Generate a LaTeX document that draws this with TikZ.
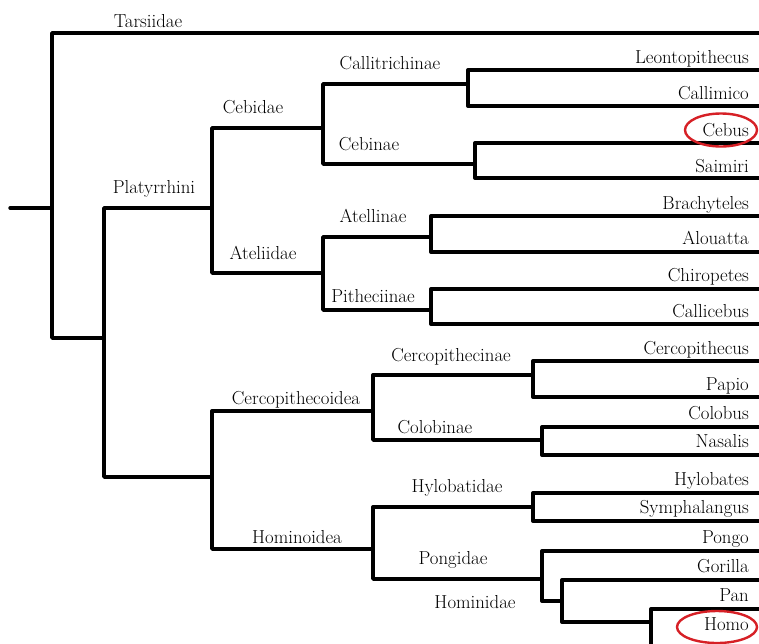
\documentclass[tikz,border=0pt]{standalone}
\usetikzlibrary{shapes.geometric}
\definecolor{markred}{RGB}{214,32,38}
\begin{document}
\begin{tikzpicture}[x=1pt,y=-1pt,
  branch/.style={line width=3.4pt, line cap=round, line join=round},
  taxon/.style={inner sep=0pt, font=\fontsize{18.8}{21}\selectfont, anchor=base},
  leaf/.style={taxon, anchor=base east},
  ringmark/.style={draw=markred, line width=2.4pt, ellipse, inner sep=0pt}]
\useasboundingbox (0,0) rectangle (759,643);
\begin{scope}
\clip (0,0) rectangle (759,643);
% branch points
\coordinate (stub) at (10,208);
\coordinate (root) at (52,208);
\coordinate (anth) at (104,338);
\coordinate (platy) at (212,208);
\coordinate (catar) at (212,477);
\coordinate (cebid) at (323,128);
\coordinate (ateli) at (323,273);
\coordinate (callit) at (468,84);
\coordinate (cebin) at (475,164);
\coordinate (atell) at (431,237);
\coordinate (pith) at (431,310);
\coordinate (cercoid) at (373,411);
\coordinate (homoid) at (373,549);
\coordinate (cercin) at (533,375);
\coordinate (colob) at (542,440);
\coordinate (hylob) at (533,507);
\coordinate (pong) at (542,579);
\coordinate (homin) at (562,601);
\coordinate (hp) at (651,622);
% leaf tips
\coordinate (tarsT) at (763,33);
\coordinate (leonT) at (763,70);
\coordinate (callimT) at (763,106);
\coordinate (cebusT) at (763,143);
\coordinate (saimT) at (763,178);
\coordinate (brachT) at (763,216);
\coordinate (alouT) at (763,252);
\coordinate (chirT) at (763,289);
\coordinate (callicT) at (763,324);
\coordinate (cercoT) at (763,361);
\coordinate (papioT) at (763,397);
\coordinate (colobT) at (763,427);
\coordinate (nasT) at (763,455);
\coordinate (hylT) at (763,493);
\coordinate (symT) at (763,521);
\coordinate (pongoT) at (763,551);
\coordinate (goriT) at (763,580);
\coordinate (panT) at (763,609);
\coordinate (homoT) at (763,648);
% branches
\draw[branch] (stub) -- (root);
\draw[branch] (root) |- (tarsT);
\draw[branch] (root) |- (anth);
\draw[branch] (anth) |- (platy);
\draw[branch] (anth) |- (catar);
\draw[branch] (platy) |- (cebid);
\draw[branch] (platy) |- (ateli);
\draw[branch] (cebid) |- (callit);
\draw[branch] (cebid) |- (cebin);
\draw[branch] (ateli) |- (atell);
\draw[branch] (ateli) |- (pith);
\draw[branch] (callit) |- (leonT);
\draw[branch] (callit) |- (callimT);
\draw[branch] (cebin) |- (cebusT);
\draw[branch] (cebin) |- (saimT);
\draw[branch] (atell) |- (brachT);
\draw[branch] (atell) |- (alouT);
\draw[branch] (pith) |- (chirT);
\draw[branch] (pith) |- (callicT);
\draw[branch] (catar) |- (cercoid);
\draw[branch] (catar) |- (homoid);
\draw[branch] (cercoid) |- (cercin);
\draw[branch] (cercoid) |- (colob);
\draw[branch] (homoid) |- (hylob);
\draw[branch] (homoid) |- (pong);
\draw[branch] (cercin) |- (cercoT);
\draw[branch] (cercin) |- (papioT);
\draw[branch] (colob) |- (colobT);
\draw[branch] (colob) |- (nasT);
\draw[branch] (hylob) |- (hylT);
\draw[branch] (hylob) |- (symT);
\draw[branch] (pong) |- (pongoT);
\draw[branch] (pong) |- (homin);
\draw[branch] (homin) |- (goriT);
\draw[branch] (homin) |- (hp);
\draw[branch] (hp) |- (panT);
\draw[branch] (hp) |- (homoT);
% internal labels
\node[taxon] (lTars) at (148,27) {Tarsiidae};
\node[taxon] (lPlaty) at (154,193) {Platyrrhini};
\node[taxon] (lCebid) at (253,113) {Cebidae};
\node[taxon] (lAteli) at (263,259) {Ateliidae};
\node[taxon] (lCallit) at (390,69) {Callitrichinae};
\node[taxon] (lCebin) at (369,150) {Cebinae};
\node[taxon] (lAtell) at (373,222) {Atellinae};
\node[taxon] (lPith) at (373,302) {Pitheciinae};
\node[taxon] (lCercoid) at (296,404) {Cercopithecoidea};
\node[taxon] (lHomoid) at (297,543) {Hominoidea};
\node[taxon] (lCercin) at (451,361) {Cercopithecinae};
\node[taxon] (lColob) at (435,433) {Colobinae};
\node[taxon] (lHylob) at (457,492) {Hylobatidae};
\node[taxon] (lPong) at (453,564) {Pongidae};
\node[taxon] (lHomin) at (475,608) {Hominidae};
% leaf labels
\node[leaf] (nLeon) at (749,63) {Leontopithecus};
\node[leaf] (nCallim) at (749,99) {Callimico};
\node[leaf] (nCebus) at (749,136) {Cebus};
\node[leaf] (nSaim) at (749,172) {Saimiri};
\node[leaf] (nBrach) at (749,209) {Brachyteles};
\node[leaf] (nAlou) at (749,244) {Alouatta};
\node[leaf] (nChir) at (749,281) {Chiropetes};
\node[leaf] (nCallic) at (749,317) {Callicebus};
\node[leaf] (nCerco) at (749,354) {Cercopithecus};
\node[leaf] (nPapio) at (749,390) {Papio};
\node[leaf] (nColob) at (749,419) {Colobus};
\node[leaf] (nNas) at (749,447) {Nasalis};
\node[leaf] (nHyl) at (749,485) {Hylobates};
\node[leaf] (nSym) at (749,513) {Symphalangus};
\node[leaf] (nPongo) at (749,543) {Pongo};
\node[leaf] (nGori) at (749,572) {Gorilla};
\node[leaf] (nPan) at (749,601) {Pan};
\node[leaf] (nHomo) at (749,630) {Homo};
% red rings
\node[ringmark, minimum width=72pt, minimum height=33pt] (ringCebus) at (721,130) {};
\node[ringmark, minimum width=80pt, minimum height=32pt] (ringHomo) at (717,627) {};
\end{scope}
\end{tikzpicture}
\end{document}
